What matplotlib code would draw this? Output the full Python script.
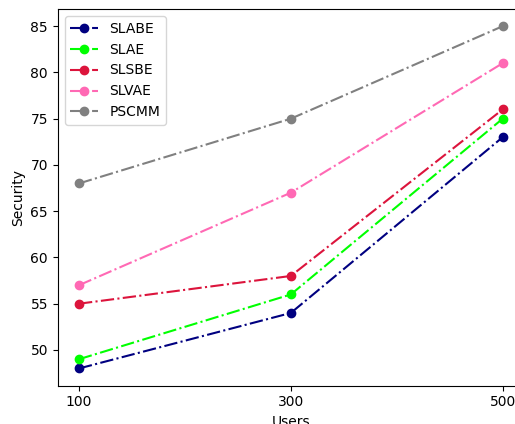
import matplotlib
matplotlib.use("Agg")
import matplotlib.pyplot as plt

users = [100, 300, 500]
slabe = [48, 54, 73]
slae = [49, 56, 75]
slsbe = [55, 58, 76]
slvae = [57, 67, 81]
pscmm = [68, 75, 85]

series = [
    ("SLABE", slabe, "navy"),
    ("SLAE", slae, "lime"),
    ("SLSBE", slsbe, "crimson"),
    ("SLVAE", slvae, "hotpink"),
    ("PSCMM", pscmm, "grey"),
]

fig = plt.figure(figsize=(5.15, 4.24), dpi=100)
# the reference is cropped on the right, so the axes run past the figure edge
ax = fig.add_axes([0.1122, 0.0906, 0.905, 0.888])

for name, values, color in series:
    ax.plot(users, values, linestyle="-.", marker="o", color=color, label=name)

ax.set_xticks(users)
ax.set_xlabel("Users")
ax.set_ylabel("Security")
ax.spines["right"].set_visible(False)
ax.legend(loc="upper left")

fig.savefig("out.png", dpi=100)
plt.close(fig)
